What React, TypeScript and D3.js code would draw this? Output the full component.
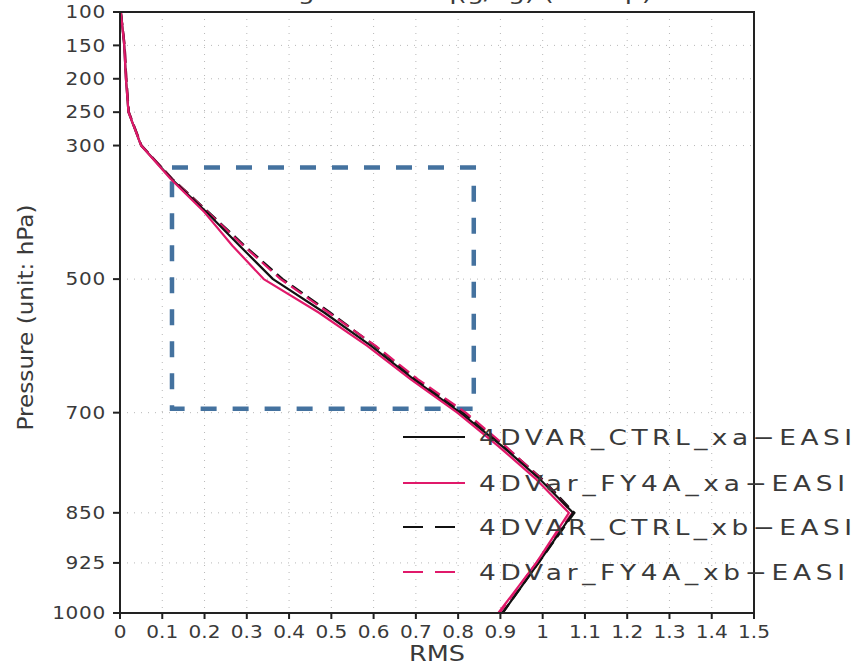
import React from "react";
import * as d3 from "d3";

// Pressure levels (hPa) of the profile
const levels = [100, 150, 200, 250, 300, 350, 400, 450, 500, 550, 600, 650, 700, 750, 800, 850, 925, 1000];

// RMS profiles against EASI
const ctrlXa = [0.002, 0.010, 0.014, 0.020, 0.050, 0.122, 0.205, 0.283, 0.362, 0.483, 0.594, 0.695, 0.805, 0.904, 0.994, 1.072, 0.990, 0.905];
const fy4aXa = [0.002, 0.010, 0.014, 0.020, 0.050, 0.120, 0.200, 0.266, 0.340, 0.470, 0.585, 0.688, 0.798, 0.895, 0.985, 1.062, 0.985, 0.895];
const ctrlXb = [0.002, 0.011, 0.015, 0.021, 0.051, 0.124, 0.210, 0.295, 0.385, 0.497, 0.603, 0.700, 0.812, 0.910, 1.000, 1.075, 0.990, 0.905];
const fy4aXb = [0.002, 0.011, 0.015, 0.021, 0.051, 0.123, 0.208, 0.292, 0.380, 0.493, 0.605, 0.705, 0.818, 0.912, 0.998, 1.070, 0.985, 0.898];

const seriesNames = ["4DVAR_CTRL_xa\u2212EASI", "4DVar_FY4A_xa\u2212EASI", "4DVAR_CTRL_xb\u2212EASI", "4DVar_FY4A_xb\u2212EASI"];

const pressureTicks = [100, 150, 200, 250, 300, 500, 700, 850, 925, 1000];
const rmsTicks = [0, 0.1, 0.2, 0.3, 0.4, 0.5, 0.6, 0.7, 0.8, 0.9, 1, 1.1, 1.2, 1.3, 1.4, 1.5];

// Highlighted region: RMS range and pressure range
const boxRms = [0.123, 0.837];
const boxPressure = [333, 694];

const titleText = "Average RMS of q(g/kg) (all exp)";

const W = 856;
const H = 663;
const left = 120, right = 754, top = 12, bottom = 613;

export default function App() {
  const x = d3.scaleLinear().domain([0, 1.5]).range([left, right]);
  const y = d3.scaleLinear().domain([100, 1000]).range([top, bottom]);

  const line = d3
    .line<[number, number]>()
    .x((d) => x(d[0]))
    .y((d) => y(d[1]));

  const series = [
    { name: seriesNames[0], values: ctrlXa, color: "#111111", dash: null },
    { name: seriesNames[1], values: fy4aXa, color: "#e0196a", dash: null },
    { name: seriesNames[2], values: ctrlXb, color: "#111111", dash: "13,6" },
    { name: seriesNames[3], values: fy4aXb, color: "#e0196a", dash: "13,6" },
  ];
  // draw order so that the pink solid sits on top, as the outermost curve
  const drawOrder = [2, 3, 0, 1];

  const font = "'DejaVu Sans', sans-serif";
  const textColor = "#3a3a3a";
  const axisColor = "#222";

  const legendRows = [437, 483, 527, 572];
  const tickScale = 1.18;
  const legendScale = 1.2;

  return (
    <svg
      width={W}
      height={H}
      viewBox={`0 0 ${W} ${H}`}
      style={{ position: "absolute", left: 0, top: 0, background: "#fff" }}
    >
      <rect x={0} y={0} width={W} height={H} fill="#fff" />

      {/* title (mostly above the visible area) */}
      <text
        x={(left + right) / 2}
        y={0}
        textAnchor="middle"
        fontFamily={font}
        fontSize={22}
        fill={textColor}
        textLength={430}
        lengthAdjust="spacingAndGlyphs"
      >
        {titleText}
      </text>

      {/* dotted grid */}
      <g stroke="#b8b8b8" strokeWidth={1} strokeDasharray="1,6">
        {rmsTicks.slice(1, -1).map((t) => (
          <line key={"gx" + t} x1={x(t)} x2={x(t)} y1={top} y2={bottom} />
        ))}
        {pressureTicks.slice(1, -1).map((p) => (
          <line key={"gy" + p} x1={left} x2={right} y1={y(p)} y2={y(p)} />
        ))}
      </g>

      {/* highlighted box */}
      <rect
        x={x(boxRms[0])}
        y={y(boxPressure[0])}
        width={x(boxRms[1]) - x(boxRms[0])}
        height={y(boxPressure[1]) - y(boxPressure[0])}
        fill="none"
        stroke="#44729f"
        strokeWidth={4.5}
        strokeDasharray="16,16"
      />

      {/* profiles */}
      {drawOrder.map((i) => {
        const s = series[i];
        const pts: [number, number][] = s.values.map((v, k) => [v, levels[k]]);
        return (
          <path
            key={s.name}
            d={line(pts) || ""}
            fill="none"
            stroke={s.color}
            strokeWidth={2.2}
            strokeDasharray={s.dash || undefined}
            strokeLinejoin="round"
          />
        );
      })}

      {/* frame */}
      <rect
        x={left}
        y={top}
        width={right - left}
        height={bottom - top}
        fill="none"
        stroke={axisColor}
        strokeWidth={2}
      />

      {/* y axis ticks and labels */}
      {pressureTicks.map((p) => (
        <g key={"yt" + p}>
          <line x1={left - 7} x2={left} y1={y(p)} y2={y(p)} stroke={axisColor} strokeWidth={2} />
          <g transform={`translate(${left - 14}, ${y(p)}) scale(${tickScale}, 1)`}>
            <text
              dy="0.36em"
              textAnchor="end"
              fontFamily={font}
              fontSize={17}
              letterSpacing={0.6}
              fill={textColor}
            >
              {p}
            </text>
          </g>
        </g>
      ))}

      {/* x axis ticks and labels */}
      {rmsTicks.map((t) => (
        <g key={"xt" + t}>
          <line x1={x(t)} x2={x(t)} y1={bottom} y2={bottom + 6} stroke={axisColor} strokeWidth={2} />
          <g transform={`translate(${x(t)}, ${bottom + 25}) scale(${tickScale}, 1)`}>
            <text
              textAnchor="middle"
              fontFamily={font}
              fontSize={17}
              fill={textColor}
            >
              {String(t)}
            </text>
          </g>
        </g>
      ))}

      {/* axis titles */}
      <text
        x={(left + right) / 2}
        y={H - 2}
        textAnchor="middle"
        fontFamily={font}
        fontSize={21}
        fill={textColor}
        textLength={56}
        lengthAdjust="spacingAndGlyphs"
      >
        RMS
      </text>
      <text
        transform={`translate(33, ${(205 + 430) / 2}) rotate(-90)`}
        textAnchor="middle"
        fontFamily={font}
        fontSize={21}
        fill={textColor}
        textLength={226}
        lengthAdjust="spacingAndGlyphs"
      >
        Pressure (unit: hPa)
      </text>

      {/* legend */}
      {series.map((s, i) => (
        <g key={"lg" + i}>
          <line
            x1={403}
            x2={465}
            y1={legendRows[i]}
            y2={legendRows[i]}
            stroke={s.color}
            strokeWidth={2}
            strokeDasharray={s.dash ? "20,12" : undefined}
          />
          <g transform={`translate(479, ${legendRows[i] + 8}) scale(${legendScale}, 1)`}>
            <text
              fontFamily={font}
              fontSize={22}
              fill={textColor}
              textLength={(i % 2 === 0 ? 373 : 366) / legendScale}
              lengthAdjust="spacing"
            >
              {s.name}
            </text>
          </g>
        </g>
      ))}
    </svg>
  );
}
